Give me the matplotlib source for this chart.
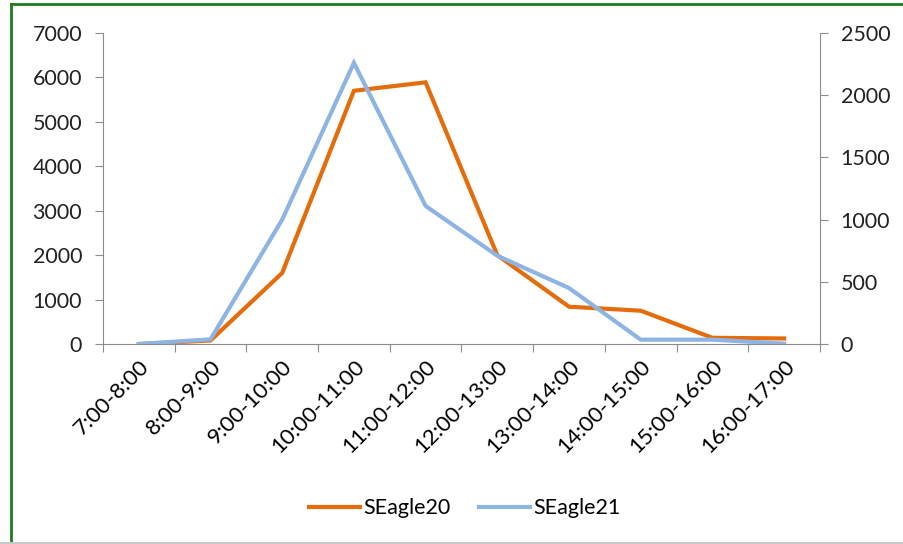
import matplotlib.pyplot as plt
from matplotlib.lines import Line2D

# Datos
franjas = ["7:00-8:00", "8:00-9:00", "9:00-10:00", "10:00-11:00", "11:00-12:00",
           "12:00-13:00", "13:00-14:00", "14:00-15:00", "15:00-16:00", "16:00-17:00"]
seagle20 = [0, 80, 1600, 5700, 5890, 2000, 840, 750, 140, 125]   # eje izquierdo
seagle21 = [0, 38, 1000, 2260, 1110, 710, 450, 35, 35, 3]         # eje derecho

naranja = "#E46C0A"
azul = "#8EB4E3"
gris = "#8C8C8C"

plt.rcParams["font.family"] = ["Lato", "DejaVu Sans"]

fig = plt.figure(figsize=(9.04, 5.44), dpi=100)
ax = fig.add_axes([0.1139, 0.3676, 0.7931, 0.5717])
ax2 = ax.twinx()

x = range(len(franjas))
ax.plot(x, seagle20, color=naranja, lw=3, solid_joinstyle="miter", zorder=3)
ax2.plot(x, seagle21, color=azul, lw=3, solid_joinstyle="miter", zorder=3)

ax.set_xlim(-0.5, len(franjas) - 0.5)
ax.set_ylim(0, 7000)
ax2.set_ylim(0, 2500)
ax.set_yticks(range(0, 7001, 1000))
ax2.set_yticks(range(0, 2501, 500))

ax.set_xticks([i - 0.5 for i in range(len(franjas) + 1)], minor=False)
ax.set_xticklabels([])
ax.set_xticks(list(x), minor=True)
ax.set_xticklabels(franjas, minor=True, rotation=45, ha="right", rotation_mode="anchor", fontsize=16)
ax.tick_params(axis="x", which="minor", length=0, pad=9)
ax.tick_params(axis="x", which="major", length=6, color=gris, direction="out")

for a in (ax, ax2):
    for s in a.spines.values():
        s.set_visible(False)
    a.tick_params(axis="y", length=6, color=gris, labelsize=15.5, pad=9, labelcolor="#222222")
ax.spines["bottom"].set_visible(True)
ax.spines["bottom"].set_color(gris)
ax.spines["left"].set_visible(True)
ax.spines["left"].set_color(gris)
ax2.spines["right"].set_visible(True)
ax2.spines["right"].set_color(gris)
ax.tick_params(axis="x", labelcolor="#222222")

handles = [Line2D([], [], color=naranja, lw=3), Line2D([], [], color=azul, lw=3)]
fig.legend(handles, ["SEagle20", "SEagle21"], loc="center", bbox_to_anchor=(0.514, 0.066),
           ncol=2, frameon=False, fontsize=15.5, handlelength=2.4, handletextpad=0.15, columnspacing=1.3)

# Marco
fig.add_artist(Line2D([0.012, 1.0], [0.993, 0.993], color="#1E7B1E", lw=2, transform=fig.transFigure))
fig.add_artist(Line2D([0.012, 0.012], [0.0, 0.993], color="#1E7B1E", lw=2, transform=fig.transFigure))
fig.add_artist(Line2D([0.0, 1.0], [0.002, 0.002], color="#C8C8C8", lw=1.5, transform=fig.transFigure))

fig.savefig("out.png", dpi=100)
